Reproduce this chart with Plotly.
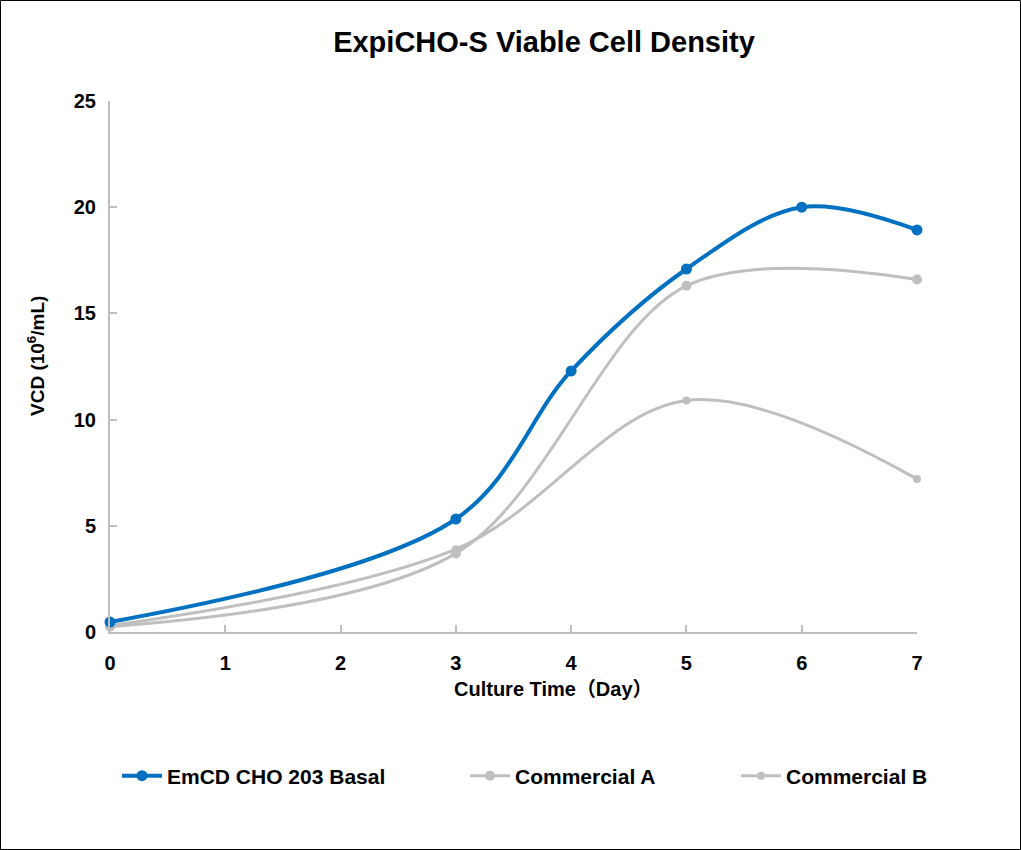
import plotly.graph_objects as go

days_emcd = [0, 3, 4, 5, 6, 7]
vcd_emcd = [0.47, 5.32, 12.29, 17.09, 20.0, 18.93]
days_comm = [0, 3, 5, 7]
vcd_comm_a = [0.25, 3.7, 16.3, 16.6]
vcd_comm_b = [0.3, 3.9, 10.9, 7.2]

W, H = 1021, 850
L, R, T, B = 110, 104, 101, 218
pw, ph = W - L - R, H - T - B

FONT = "Liberation Sans, Arial, Noto Sans CJK SC, sans-serif"
BLUE = "#0070C0"
GRAY = "#BFBFBF"

fig = go.Figure()
fig.add_trace(go.Scatter(x=days_comm, y=vcd_comm_b, name="Commercial B", mode="lines+markers",
                         line=dict(color=GRAY, width=3, shape="spline", smoothing=1.0),
                         marker=dict(size=8, color=GRAY), cliponaxis=False, legend="legend3"))
fig.add_trace(go.Scatter(x=days_comm, y=vcd_comm_a, name="Commercial A", mode="lines+markers",
                         line=dict(color=GRAY, width=3, shape="spline", smoothing=0.95),
                         marker=dict(size=10, color=GRAY), cliponaxis=False, legend="legend2"))
fig.add_trace(go.Scatter(x=days_emcd, y=vcd_emcd, name="EmCD CHO 203 Basal", mode="lines+markers",
                         line=dict(color=BLUE, width=4, shape="spline", smoothing=1.0),
                         marker=dict(size=11, color=BLUE), cliponaxis=False, legend="legend"))

def px_x(p):
    return (p - L) / pw

def px_y(p):
    return (H - B - p) / ph

leg_font = dict(family=FONT, size=21, color="black", weight="bold")
def legend_at(xp):
    return dict(orientation="h", x=px_x(xp), y=px_y(776), xanchor="left", yanchor="middle",
                font=leg_font, bgcolor="rgba(0,0,0,0)", itemwidth=40)

fig.update_layout(
    width=W, height=H,
    margin=dict(l=L, r=R, t=T, b=B),
    paper_bgcolor="white", plot_bgcolor="white",
    font=dict(family=FONT, color="black"),
    title=dict(text="<b>ExpiCHO-S Viable Cell Density</b>", x=544 / W, xanchor="center",
               xref="container", y=1 - 42 / H, yref="container", yanchor="middle",
               font=dict(family=FONT, size=29, color="black")),
    showlegend=True,
    legend=legend_at(117),
    legend2=legend_at(465),
    legend3=legend_at(736),
    xaxis=dict(range=[0, 7], tickvals=list(range(8)), showgrid=False, zeroline=False,
               showline=True, linecolor=GRAY, linewidth=2, ticks="inside", ticklen=7,
               tickcolor=GRAY, tickwidth=2, ticklabelstandoff=12,
               tickfont=dict(family=FONT, size=20, color="black", weight="bold")),
    yaxis=dict(range=[0, 25], tickvals=[0, 5, 10, 15, 20, 25], showgrid=False, zeroline=False,
               showline=True, linecolor=GRAY, linewidth=2, ticks="inside", ticklen=7,
               tickcolor=GRAY, tickwidth=2, ticklabelstandoff=8,
               tickfont=dict(family=FONT, size=20, color="black", weight="bold")),
    annotations=[
        dict(text="<b>Culture Time（Day）</b>", x=px_x(553), y=px_y(689), xref="paper", yref="paper",
             showarrow=False, xanchor="center", yanchor="middle",
             font=dict(family=FONT, size=20, color="black")),
        dict(text="<b>VCD (10<sup>6</sup>/mL)</b>", x=px_x(36), y=px_y(356), xref="paper", yref="paper",
             showarrow=False, xanchor="center", yanchor="middle", textangle=-90,
             font=dict(family=FONT, size=19, color="black")),
    ],
    shapes=[dict(type="rect", xref="paper", yref="paper",
                 x0=px_x(0.5), x1=px_x(W - 0.5), y0=px_y(H - 0.5), y1=px_y(0.5),
                 line=dict(color="black", width=1), fillcolor="rgba(0,0,0,0)", layer="below")],
)

fig.write_html("out.html")
